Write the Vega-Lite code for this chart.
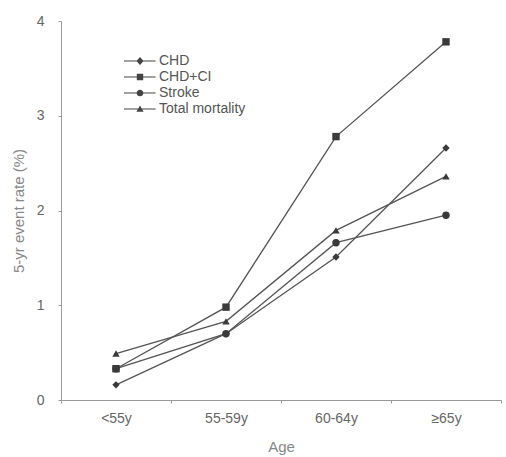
{
  "$schema": "https://vega.github.io/schema/vega-lite/v6.json",
  "width": 440,
  "height": 379,
  "autosize": "none",
  "padding": {"left": 61, "top": 21, "right": 5, "bottom": 57},
  "background": "white",
  "config": {
    "view": {"stroke": null},
    "font": "Liberation Sans",
    "axis": {
      "grid": false,
      "domainColor": "#999",
      "tickColor": "#999",
      "labelColor": "#666",
      "titleColor": "#888",
      "labelFontSize": 14,
      "titleFontSize": 15,
      "titleFontWeight": "normal",
      "labelFont": "Liberation Sans",
      "titleFont": "Liberation Sans",
      "tickSize": 3
    }
  },
  "data": {
    "values": [
      {"age": "<55y", "series": "CHD", "rate": 0.16},
      {"age": "55-59y", "series": "CHD", "rate": 0.70},
      {"age": "60-64y", "series": "CHD", "rate": 1.51},
      {"age": "≥65y", "series": "CHD", "rate": 2.66},
      {"age": "<55y", "series": "CHD+CI", "rate": 0.33},
      {"age": "55-59y", "series": "CHD+CI", "rate": 0.98},
      {"age": "60-64y", "series": "CHD+CI", "rate": 2.78},
      {"age": "≥65y", "series": "CHD+CI", "rate": 3.78},
      {"age": "<55y", "series": "Stroke", "rate": 0.33},
      {"age": "55-59y", "series": "Stroke", "rate": 0.70},
      {"age": "60-64y", "series": "Stroke", "rate": 1.66},
      {"age": "≥65y", "series": "Stroke", "rate": 1.95},
      {"age": "<55y", "series": "Total mortality", "rate": 0.49},
      {"age": "55-59y", "series": "Total mortality", "rate": 0.83},
      {"age": "60-64y", "series": "Total mortality", "rate": 1.79},
      {"age": "≥65y", "series": "Total mortality", "rate": 2.36}
    ]
  },
  "encoding": {
    "x": {
      "field": "age",
      "type": "ordinal",
      "sort": ["<55y", "55-59y", "60-64y", "≥65y"],
      "scale": {"type": "band", "paddingInner": 0, "paddingOuter": 0},
      "axis": {"title": "Age", "labelAngle": 0, "tickBand": "extent", "labelPadding": 8, "titlePadding": 14}
    },
    "y": {
      "field": "rate",
      "type": "quantitative",
      "scale": {"domain": [0, 4], "nice": false},
      "axis": {"title": "5-yr event rate (%)", "values": [0, 1, 2, 3, 4], "format": "d", "labelPadding": 14, "titlePadding": 10}
    }
  },
  "layer": [
    {
      "mark": {"type": "line", "color": "#555", "strokeWidth": 1.3},
      "encoding": {"detail": {"field": "series"}}
    },
    {
      "mark": {"type": "point", "filled": true, "opacity": 1, "color": "#3a3a3a", "size": 55},
      "encoding": {
        "shape": {
          "field": "series",
          "type": "nominal",
          "scale": {"domain": ["CHD", "CHD+CI", "Stroke", "Total mortality"], "range": ["diamond", "square", "circle", "triangle-up"]},
          "legend": null
        }
      }
    },
    {
      "mark": {"type": "point", "filled": true, "opacity": 0, "color": "#444", "size": 256},
      "encoding": {
        "shape": {
          "field": "series",
          "type": "nominal",
          "scale": {
            "domain": ["CHD", "CHD+CI", "Stroke", "Total mortality"],
            "range": [
              "M-3.0,-0.07H0.95V0.07H-3.0ZM-1,-0.5L-0.55,0L-1,0.5L-1.45,0Z",
              "M-3.0,-0.07H0.95V0.07H-3.0ZM-1.4,-0.4H-0.6V0.4H-1.4Z",
              "M-3.0,-0.07H0.95V0.07H-3.0ZM-1.42,0A0.42,0.42 0 1,1 -0.58,0A0.42,0.42 0 1,1 -1.42,0Z",
              "M-3.0,-0.07H0.95V0.07H-3.0ZM-1,-0.45L-0.55,0.35L-1.45,0.35Z"
            ]
          },
          "legend": {
            "title": null,
            "orient": "none",
            "legendX": 78,
            "legendY": 31,
            "padding": 0,
            "rowPadding": 0,
            "symbolSize": 256,
            "symbolOpacity": 1,
            "symbolFillColor": "#444",
            "labelOffset": 2,
            "labelFontSize": 14,
            "labelColor": "#555",
            "labelFont": "Liberation Sans"
          }
        }
      }
    }
  ],
  "resolve": {"scale": {"shape": "independent"}, "legend": {"shape": "independent"}}
}
